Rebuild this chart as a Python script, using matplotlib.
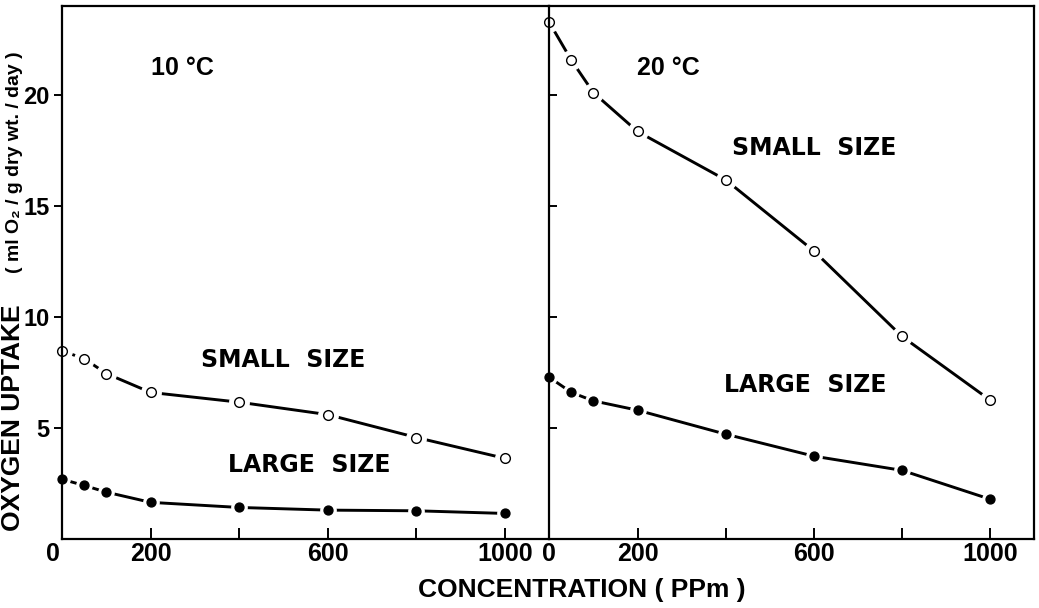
import matplotlib
matplotlib.use("Agg")
import matplotlib.pyplot as plt

# concentrations (ppm) and oxygen uptake values
conc = [0, 50, 100, 200, 400, 600, 800, 1000]
small_10c = [8.47, 8.12, 7.45, 6.6, 6.16, 5.6, 4.57, 3.63]
large_10c = [2.69, 2.41, 2.11, 1.65, 1.42, 1.30, 1.27, 1.15]
small_20c = [23.26, 21.56, 20.1, 18.35, 16.17, 12.97, 9.12, 6.25]
large_20c = [7.28, 6.6, 6.22, 5.8, 4.72, 3.73, 3.09, 1.79]

xticks = [0, 200, 400, 600, 800, 1000]
xtick_labels = ['', '200', '', '600', '', '1000']
yticks = [5, 10, 15, 20]
ytick_labels = ['5', '10', '15', '20']

BOLD = ['Liberation Sans', 'DejaVu Sans']
WIDE = ['DejaVu Sans']

fig = plt.figure(figsize=(10.39, 6.08), dpi=100)
ax1 = fig.add_axes([0.0597, 0.1135, 0.4690, 0.8766])
ax2 = fig.add_axes([0.5287, 0.1135, 0.4668, 0.8766])


def draw_series(ax, y, filled):
    # line first, then a white halo so the line stops short of each marker
    ax.plot(conc, y, color='black', lw=2.1, zorder=2.0, clip_on=False)
    if filled:
        ax.plot(conc, y, ls='none', marker='o', ms=11, mfc='white', mec='white',
                zorder=2.1, clip_on=False)
        ax.plot(conc, y, ls='none', marker='o', ms=6.4, mfc='black', mec='black',
                zorder=2.2, clip_on=False)
    else:
        ax.plot(conc, y, ls='none', marker='o', ms=14, mfc='white', mec='white',
                zorder=2.1, clip_on=False)
        ax.plot(conc, y, ls='none', marker='o', ms=7, mfc='white', mec='black',
                mew=1.0, zorder=2.2, clip_on=False)


for ax in (ax1, ax2):
    ax.set_xlim(0, 1100)
    ax.set_ylim(0, 24)
    for s in ax.spines.values():
        s.set_linewidth(1.6)
    ax.set_xticks(xticks)
    ax.set_xticklabels(xtick_labels, family=BOLD, weight='bold', fontsize=18)
    ax.tick_params(axis='x', direction='in', length=8, width=1.4, pad=2)
    ax.set_yticks(yticks)

draw_series(ax1, small_10c, False)
draw_series(ax1, large_10c, True)
draw_series(ax2, small_20c, False)
draw_series(ax2, large_20c, True)

# left panel: outward y ticks with labels
ax1.set_yticklabels(ytick_labels, family=BOLD, weight='bold', fontsize=17)
ax1.tick_params(axis='y', direction='out', length=6, width=1.4, pad=3)
ax1.spines['right'].set_visible(False)

# right panel: inward y ticks without labels, 0 label under the divider
ax2.set_yticklabels([])
ax2.tick_params(axis='y', direction='in', length=6, width=1.4)
ax2.set_xticklabels(['0', '200', '', '600', '', '1000'], family=BOLD,
                    weight='bold', fontsize=18)

# origin label of the left panel sits left of the spine
ax1.text(-4, -0.15, '0', ha='right', va='top',
         family=BOLD, weight='bold', fontsize=18, clip_on=False)

# panel annotations
ax1.text(200, 21.2, '10 °C', ha='left', va='center', family=BOLD, weight='bold', fontsize=18)
ax2.text(199, 21.2, '20 °C', ha='left', va='center', family=BOLD, weight='bold', fontsize=18)
ax1.text(500, 8.05, 'SMALL  SIZE', ha='center', va='center', family=WIDE, weight='bold', fontsize=17)
ax1.text(557, 3.34, 'LARGE  SIZE', ha='center', va='center', family=WIDE, weight='bold', fontsize=17)
ax2.text(601, 17.6, 'SMALL  SIZE', ha='center', va='center', family=WIDE, weight='bold', fontsize=17)
ax2.text(580, 6.93, 'LARGE  SIZE', ha='center', va='center', family=WIDE, weight='bold', fontsize=17)

# axis titles
fig.text(582 / 1039, 1 - 590 / 608, 'CONCENTRATION ( PPm )', ha='center', va='center',
         family=BOLD, weight='bold', fontsize=19)
fig.text(13 / 1039, 1 - 418 / 608, 'OXYGEN UPTAKE', ha='center', va='center',
         rotation=90, family=BOLD, weight='bold', fontsize=19)
fig.text(15 / 1039, 1 - 162 / 608, '( ml O₂ / g dry wt. / day )', ha='center', va='center',
         rotation=90, family=BOLD, weight='bold', fontsize=14)

fig.savefig('out.png', dpi=100, facecolor='white')
